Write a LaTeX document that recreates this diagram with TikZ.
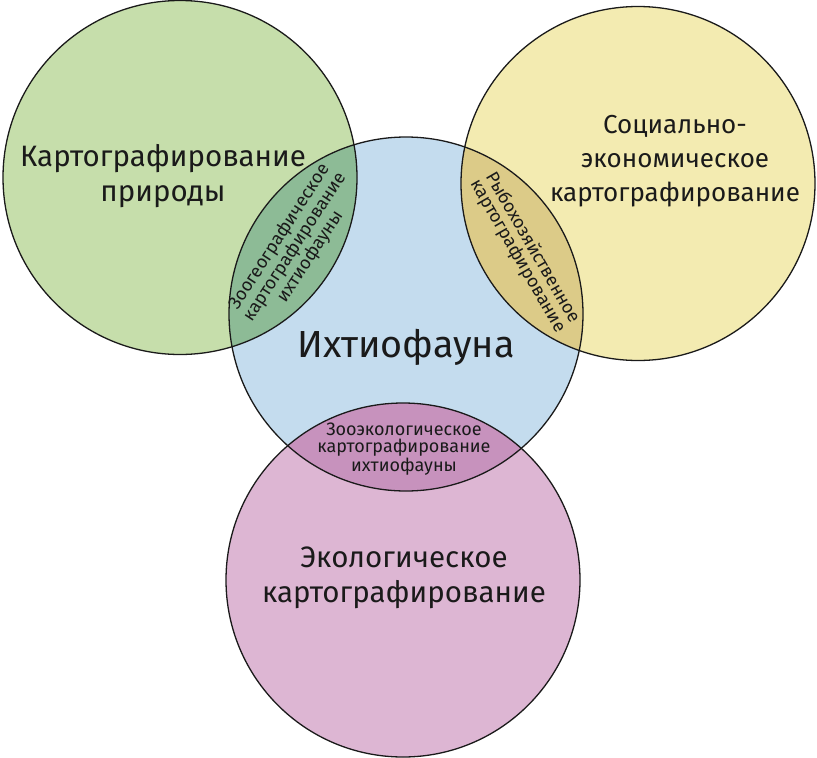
\documentclass[tikz,border=0pt]{standalone}
\usepackage{fontspec}
\setmainfont{Fira Sans}
\definecolor{cgreen}{HTML}{C6DEAB}
\definecolor{cyellow}{HTML}{F3EBB1}
\definecolor{cblue}{HTML}{C4DCEE}
\definecolor{cpink}{HTML}{DDB6D3}
\definecolor{lgreen}{HTML}{8DBB96}
\definecolor{lyellow}{HTML}{DCCB88}
\definecolor{lpink}{HTML}{C792BD}
\definecolor{ink}{HTML}{1A1A1A}
\begin{document}
\begin{tikzpicture}[x=1pt,y=-1pt,
  outline/.style={draw=ink,line width=1.3pt},
  big/.style={font=\fontsize{29.5}{34.5}\selectfont,align=center,text=ink,inner sep=0pt},
  bigy/.style={font=\fontsize{26}{34}\selectfont,align=center,text=ink,inner sep=0pt},
  small/.style={font=\fontsize{18}{17}\selectfont,align=center,text=ink,inner sep=0pt}]
\useasboundingbox (0,0) rectangle (817,758);
\def\R{177}
\coordinate (G) at (180,177.5);
\coordinate (Y) at (638,183.5);
\coordinate (B) at (406,314);
\coordinate (P) at (403,580);
% fills
\fill[cgreen] (G) circle (\R);
\fill[cyellow] (Y) circle (\R);
\fill[cblue] (B) circle (\R);
\fill[cpink] (P) circle (\R);
% lenses
\begin{scope}\clip (B) circle (\R); \fill[lgreen] (G) circle (\R); \end{scope}
\begin{scope}\clip (B) circle (\R); \fill[lyellow] (Y) circle (\R); \end{scope}
\begin{scope}\clip (B) circle (\R); \fill[lpink] (P) circle (\R); \end{scope}
% outlines
\draw[outline] (G) circle (\R);
\draw[outline] (Y) circle (\R);
\draw[outline] (B) circle (\R);
\draw[outline] (P) circle (\R);
% labels
\node[big] (tg) at (163,176) {Картографирование\\природы};
\node[bigy] (ty) at (675,161) {Социально-\\экономическое\\картографирование};
\node[big] (tp) at (404,578) {Экологическое\\картографирование};
\node[text=ink,inner sep=0pt,font=\fontsize{37.7}{40}\selectfont] (tb) at (406,347) {Ихтиофауна};
\node[small,rotate=57] (lg) at (295,247) {Зоогеографическое\\картографирование\\ихтиофауны};
\node[small,rotate=-60] (ly) at (525,252) {Рыбохозяйственное\\картографирование};
\node[small] (lp) at (404,449) {Зооэкологическое\\картографирование\\ихтиофауны};
\end{tikzpicture}
\end{document}
